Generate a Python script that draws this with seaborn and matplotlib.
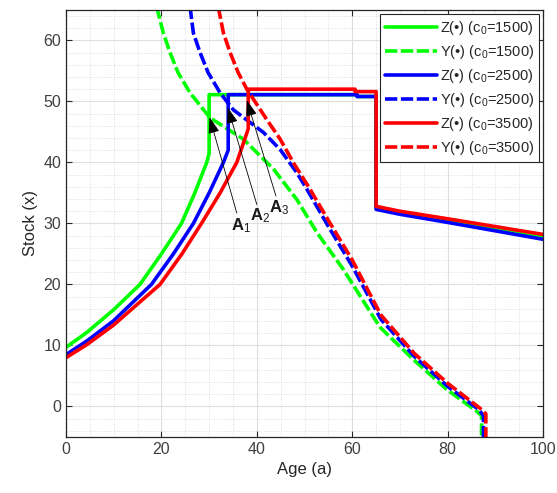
import seaborn as sns
import matplotlib.pyplot as plt
from matplotlib.ticker import MultipleLocator

sns.set_style("ticks")
plt.rcParams['font.family'] = ['Liberation Sans', 'DejaVu Sans']
plt.rcParams['mathtext.fontset'] = 'custom'
plt.rcParams['mathtext.rm'] = 'Liberation Sans'
plt.rcParams['mathtext.it'] = 'Liberation Sans:italic'

# Z curves (solid): rising part, jump, plateau, drop, decline
z1500_age = [0, 4.3, 9.9, 15.5, 20.0, 24.2, 27.0, 29.5, 30.0, 30.0, 61, 61, 65, 65, 70, 80.5, 100]
z1500_stock = [9.7, 12.1, 15.8, 20.0, 25.0, 30.0, 35.0, 40.0, 41.5, 51.1, 51.1, 50.8, 50.8, 32.5, 31.7, 30.4, 27.7]
z2500_age = [0, 4.3, 9.9, 17.9, 22.5, 26.7, 30.0, 33.0, 34.0, 34.0, 61, 61, 65, 65, 70, 80.5, 100]
z2500_stock = [8.5, 10.7, 14.0, 20.0, 25.0, 30.0, 35.0, 40.0, 42.0, 51.1, 51.1, 50.8, 50.8, 32.3, 31.5, 30.1, 27.4]
z3500_age = [0, 4.3, 9.9, 19.7, 24.3, 28.4, 32.3, 35.8, 37.9, 38.2, 38.2, 60.6, 60.6, 65, 65, 70, 80.5, 100]
z3500_stock = [8.0, 10.1, 13.3, 20.0, 25.0, 30.0, 35.0, 40.0, 44.8, 45.5, 52.0, 52.0, 51.6, 51.6, 32.8, 32.0, 30.7, 28.2]

# Y curves (dashed): declining
y1500_age = [19.0, 20.4, 21.8, 23.5, 26.0, 30.2, 37.2, 43.5, 48.4, 52.6, 58.1, 65.8, 72.8, 79.8, 86.1, 87.1, 87.1]
y1500_stock = [65.5, 61.2, 58.0, 54.7, 51.4, 47.3, 43.8, 38.9, 33.9, 28.5, 22.5, 13.0, 7.7, 2.8, -0.8, -1.5, -5.5]
y2500_age = [26.0, 26.7, 28.1, 29.8, 32.3, 35.1, 41.4, 44.9, 48.4, 50.5, 55, 60, 66, 73, 80, 86.5, 87.5, 87.5]
y2500_stock = [65.5, 61.2, 58.0, 54.7, 51.4, 48.6, 44.9, 42.1, 38.3, 35.6, 29.5, 23.0, 14.3, 8.2, 3.3, -0.5, -1.5, -5.5]
y3500_age = [31.9, 33.0, 34.4, 36.1, 37.9, 42.1, 44.9, 47.7, 51, 55, 60, 66, 73, 80, 86.8, 88.0, 88.0]
y3500_stock = [65.5, 61.2, 58.0, 54.7, 52.0, 47.0, 43.8, 39.9, 35.8, 30.5, 24.0, 15.0, 8.7, 3.8, -0.3, -1.2, -5.5]

labels = ["Z(•) (c$_0$=1500)", "Y(•) (c$_0$=1500)",
          "Z(•) (c$_0$=2500)", "Y(•) (c$_0$=2500)",
          "Z(•) (c$_0$=3500)", "Y(•) (c$_0$=3500)"]

# annotation arrows (head, tail, label)
arrow_heads = [(30.1, 47.4), (33.9, 49.0), (37.9, 50.2)]
arrow_tails = [(35.8, 31.7), (40.0, 33.1), (44.0, 34.5)]
arrow_texts = ["A$_1$", "A$_2$", "A$_3$"]
text_pos = [(36.6, 28.9), (40.6, 30.5), (44.6, 31.8)]

fig, ax = plt.subplots(figsize=(5.57, 4.93), dpi=100)
fig.subplots_adjust(left=0.1185, right=0.975, top=0.98, bottom=0.1136)

dash = (0, (3.4, 1.0))
curves = [
    (z1500_age, z1500_stock, '#00ff00', '-'),
    (y1500_age, y1500_stock, '#00ff00', dash),
    (z2500_age, z2500_stock, '#0000ff', '-'),
    (y2500_age, y2500_stock, '#0000ff', dash),
    (z3500_age, z3500_stock, '#ff0000', '-'),
    (y3500_age, y3500_stock, '#ff0000', dash),
]
for (a, s, c, ls), lab in zip(curves, labels):
    sns.lineplot(x=a, y=s, color=c, linestyle=ls, linewidth=2.6, sort=False,
                 estimator=None, label=lab, ax=ax)

for head, tail, t, tp in zip(arrow_heads, arrow_tails, arrow_texts, text_pos):
    ax.annotate('', xy=head, xytext=tail,
                arrowprops=dict(arrowstyle='-|>,head_length=0.5,head_width=0.17',
                                mutation_scale=20, color='black', lw=0.6,
                                shrinkA=0, shrinkB=0))
    ax.text(tp[0], tp[1], t, ha='center', va='baseline', fontsize=12,
            fontweight='bold', color='#1a1a1a')

ax.set_xlim(0, 100)
ax.set_ylim(-5, 65)
ax.xaxis.set_major_locator(MultipleLocator(20))
ax.xaxis.set_minor_locator(MultipleLocator(5))
ax.yaxis.set_major_locator(MultipleLocator(10))
ax.yaxis.set_minor_locator(MultipleLocator(2))
ax.set_axisbelow(True)
ax.grid(which='major', color='#dedede', lw=0.8, ls='-')
ax.grid(which='minor', color='#d2d2d2', lw=0.6, ls=(0, (1, 2)))
ax.tick_params(which='major', direction='in', top=True, right=True, length=4,
               width=0.8, labelsize=11.5, color='#262626', labelcolor='#404040')
ax.tick_params(which='minor', length=0)
for sp in ax.spines.values():
    sp.set_color('#262626')
    sp.set_linewidth(0.9)

ax.set_xlabel("Age (a)", fontsize=12, color='#262626')
ax.set_ylabel("Stock (x)", fontsize=12, color='#262626')

leg = ax.legend(loc='upper right', fontsize=10.5, frameon=True, fancybox=False,
                edgecolor='#262626', framealpha=1, handlelength=3.5,
                borderaxespad=0.25, labelspacing=0.42, handletextpad=0.25,
                borderpad=0.35)
leg.get_frame().set_linewidth(0.8)

fig.savefig("out.png", dpi=100)
